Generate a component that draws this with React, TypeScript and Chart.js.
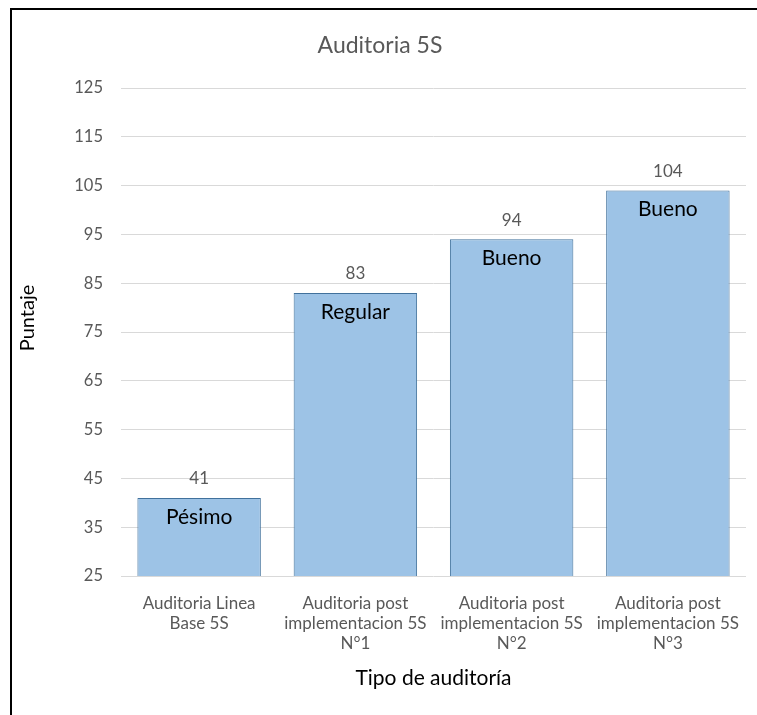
import React, { useEffect, useRef } from "react";
import { Chart, registerables } from "chart.js";

Chart.register(...registerables);

const categories: string[][] = [
  ["Auditoria Linea", "Base 5S"],
  ["Auditoria post", "implementacion 5S", "N°1"],
  ["Auditoria post", "implementacion 5S", "N°2"],
  ["Auditoria post", "implementacion 5S", "N°3"],
];
const scores: number[] = [41, 83, 94, 104];
const ratings: string[] = ["Pésimo", "Regular", "Bueno", "Bueno"];
const yMin = 25;
const yMax = 125;
const yStep = 10;
const yTitle = "Puntaje";

const FONT = "Lato, 'Open Sans', sans-serif";
const GRAY = "#595959";

const labelPlugin = {
  id: "barLabels",
  afterDatasetsDraw(chart: any) {
    const ctx = chart.ctx;
    const meta = chart.getDatasetMeta(0);
    ctx.save();
    ctx.textAlign = "center";
    ctx.textBaseline = "middle";
    meta.data.forEach((bar: any, i: number) => {
      ctx.fillStyle = GRAY;
      ctx.font = `17px ${FONT}`;
      ctx.fillText(String(scores[i]), bar.x, bar.y - 19);
      ctx.fillStyle = "#000000";
      ctx.font = `21px ${FONT}`;
      ctx.fillText(ratings[i], bar.x, bar.y + 19);
    });
    // Y axis title (Excel places it slightly above the plot centre)
    const area = chart.chartArea;
    ctx.translate(28, (area.top + area.bottom) / 2 - 14);
    ctx.rotate(-Math.PI / 2);
    ctx.fillStyle = "#000000";
    ctx.font = `20px ${FONT}`;
    ctx.fillText(yTitle, 0, 0);
    ctx.restore();
  },
};

export default function App() {
  const ref = useRef<HTMLCanvasElement>(null);
  useEffect(() => {
    if (!ref.current) return;
    const chart = new Chart(ref.current, {
      type: "bar",
      data: {
        labels: categories,
        datasets: [
          {
            data: scores,
            backgroundColor: "#9DC3E6",
            borderColor: "#41719C",
            borderWidth: 1,
            barPercentage: 0.79,
            categoryPercentage: 1,
          },
        ],
      },
      options: {
        responsive: false,
        animation: false,
        layout: { padding: { top: 10, right: 11, bottom: 0, left: 14 } },
        plugins: {
          legend: { display: false },
          tooltip: { enabled: false },
          title: {
            display: true,
            text: "Auditoria 5S",
            color: GRAY,
            font: { family: FONT, size: 23, weight: "normal", lineHeight: 1.2 },
            padding: { top: 22.2, bottom: 28.2 },
          },
        },
        scales: {
          x: {
            grid: { display: false },
            border: { display: false },
            ticks: {
              color: GRAY,
              font: { family: FONT, size: 17, lineHeight: "20px" },
              padding: 10,
              maxRotation: 0,
              autoSkip: false,
            },
            title: {
              display: true,
              text: "Tipo de auditoría",
              color: "#000000",
              font: { family: FONT, size: 21, lineHeight: 1.2 },
              padding: { top: 0, bottom: 24.4 },
            },
            afterFit(scale: any) {
              scale.height = 139;
            },
          },
          y: {
            min: yMin,
            max: yMax,
            grid: { color: "#D9D9D9", lineWidth: 1, drawTicks: false },
            border: { display: false },
            ticks: {
              stepSize: yStep,
              color: GRAY,
              font: { family: FONT, size: 16.5 },
              padding: 18,
            },
            title: { display: false },
            afterFit(scale: any) {
              scale.width = 107;
            },
          },
        },
      },
      plugins: [labelPlugin],
    } as any);
    return () => chart.destroy();
  }, []);

  return (
    <div style={{ position: "absolute", left: 0, top: 0, width: 757, height: 715, background: "#fff", overflow: "hidden" }}>
      <canvas ref={ref} width={757} height={715} style={{ position: "absolute", left: 0, top: 0 }} />
      <div
        style={{
          position: "absolute",
          left: 10,
          top: 8,
          width: 800,
          height: 800,
          borderLeft: "2px solid #000",
          borderTop: "2px solid #000",
          pointerEvents: "none",
        }}
      />
    </div>
  );
}
